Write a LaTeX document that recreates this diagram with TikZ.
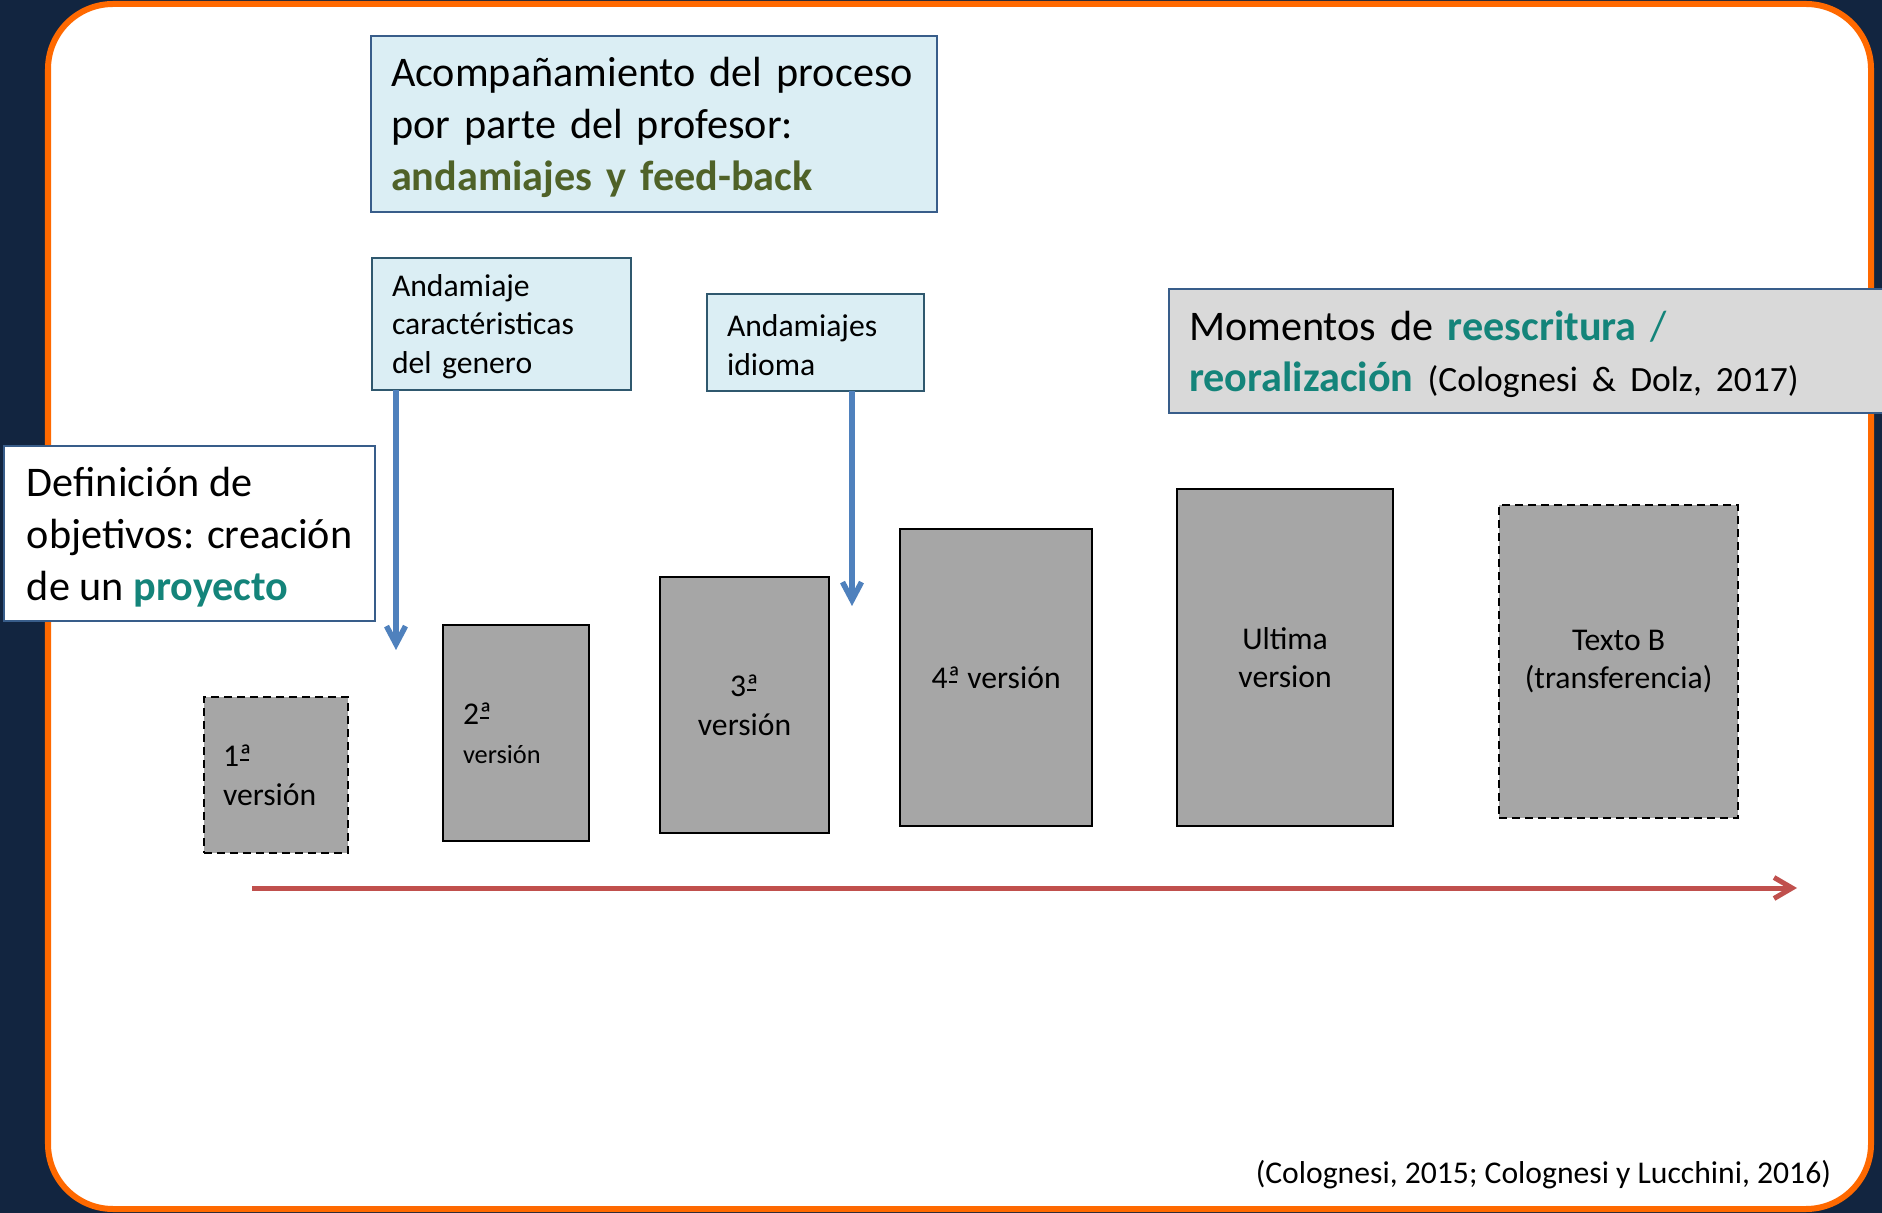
\documentclass[tikz,border=0pt]{standalone}
\usepackage{fontspec}
\setmainfont{Carlito}
\usetikzlibrary{arrows.meta}

\definecolor{navy}{RGB}{18,37,64}
\definecolor{rim}{RGB}{255,105,0}
\definecolor{paleblue}{RGB}{219,238,244}
\definecolor{boxblue}{RGB}{56,93,138}
\definecolor{boxteal}{RGB}{47,88,110}
\definecolor{olivegreen}{RGB}{79,98,40}
\definecolor{tealtext}{RGB}{20,132,122}
\definecolor{arrblue}{RGB}{79,129,189}
\definecolor{arrred}{RGB}{192,80,77}
\definecolor{vgrey}{RGB}{166,166,166}
\definecolor{lightgrey}{RGB}{217,217,217}

\newcommand{\bigsz}{\fontsize{12}{14.7}\selectfont}
\newcommand{\smallsz}{\fontsize{9}{11}\selectfont}
\newcommand{\ordfem}{\rlap{\hspace{0.03em}\rule[0.18em]{0.27em}{0.055em}}ª}

\begin{document}
\begin{tikzpicture}[x=0.01cm, y=-0.01cm,
    every node/.style={inner ysep=0pt, outer sep=0pt, anchor=north west},
    prof/.style={draw=boxblue, line width=0.2mm, fill=paleblue, inner xsep=2mm, align=left, font=\bigsz},
    scaff/.style={draw=boxteal, line width=0.2mm, fill=paleblue, inner xsep=2mm, align=left, font=\smallsz},
    ver/.style={draw=black, line width=0.2mm, fill=vgrey, font=\smallsz},
    verdash/.style={ver, dash pattern=on 0.8mm off 0.5mm},
    bluearr/.style={arrblue, line width=0.55mm, -{Straight Barb[length=1.8mm,width=1.9mm]}},
    redarr/.style={arrred, line width=0.5mm, -{Straight Barb[length=1.8mm,width=2.1mm]}}]
  \useasboundingbox (0,0) rectangle (1882,1213);
  \fill[navy] (0,0) rectangle (1882,1213);
  \draw[rim, line width=0.6mm, fill=white, rounded corners=6.5mm] (48,4) rectangle (1871,1209);

  \node[prof, minimum width=56.6mm, minimum height=17.6mm, text width=52.6mm] (acomp) at (371,36)
    {\strut Acompañamiento del proceso\\por parte del profesor:\\\textcolor{olivegreen}{\textbf{andamiajes y feed-back}}};
  \node[scaff, minimum width=25.9mm, minimum height=13.2mm, text width=21.9mm] (andam) at (372,258)
    {\strut Andamiaje\\caractéristicas\\del genero};
  \node[scaff, minimum width=21.7mm, minimum height=9.7mm, text width=17.7mm] (idioma) at (707,294)
    {\strut Andamiajes\\idioma};
  \node[prof, fill=white, minimum width=37.1mm, minimum height=17.5mm] (objet) at (4,446)
    {\strut Definición de\\objetivos: creación\\de un \textcolor{tealtext}{\textbf{proyecto}}};
  \node[prof, fill=lightgrey, minimum width=73.1mm, minimum height=12.4mm, text width=69.1mm] (momentos) at (1169,289)
    {\strut Momentos de \textcolor{tealtext}{\textbf{reescritura} /}\\\textcolor{tealtext}{\textbf{reoralización}} {\fontsize{10.1}{14.7}\selectfont(Colognesi \& Dolz, 2017)}};

  \node[verdash, minimum width=14.4mm, minimum height=15.6mm, text width=10.6mm, inner xsep=1.9mm, align=left] (v1) at (204,697)
    {1\ordfem\\versión};
  \node[ver, minimum width=14.6mm, minimum height=21.6mm, text width=10.6mm, inner xsep=2mm, align=left] (v2) at (443,625)
    {2\ordfem\\{\fontsize{7.5}{11}\selectfont versión}};
  \node[ver, minimum width=16.9mm, minimum height=25.6mm, align=center] (v3) at (660,577)
    {3\ordfem\\versión};
  \node[ver, minimum width=19.2mm, minimum height=29.7mm, align=center] (v4) at (900,529)
    {4\ordfem{} versión};
  \node[ver, minimum width=21.6mm, minimum height=33.7mm, align=center] (v5) at (1177,489)
    {Ultima\\version};
  \node[verdash, minimum width=23.9mm, minimum height=31.3mm, align=center] (v6) at (1499,505)
    {Texto B\\(transferencia)};

  \coordinate (genend) at (396,650);
  \coordinate (idiend) at (852,606);
  \draw[bluearr] (andam.south -| genend) -- (genend);
  \draw[bluearr] (idioma.south -| idiend) -- (idiend);

  \coordinate (tstart) at (252,888);
  \coordinate (tend) at (1797,888);
  \draw[redarr] (tstart) -- (tend);

  \node[anchor=east, inner sep=0pt, font=\smallsz] (cite) at (1831,1175)
    {(Colognesi, 2015; Colognesi y Lucchini, 2016)};
\end{tikzpicture}
\end{document}
